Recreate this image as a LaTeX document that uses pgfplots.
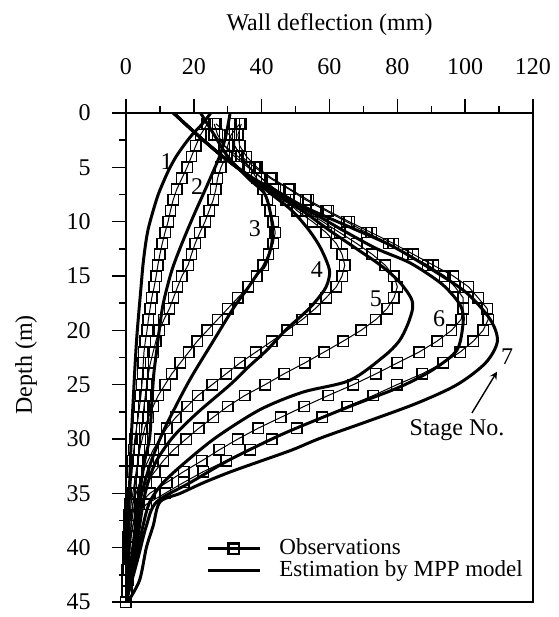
\documentclass[border=0pt]{standalone}
\usepackage{fontspec}
\setmainfont{Liberation Serif}
\usepackage{pgfplots}
\pgfplotsset{compat=1.18}
\usepackage{pgfplotstable}

% Observations (deflection mm, depth m)
\pgfplotstableread{
x y
24 1
22 2
20.6 3
19.3 4
18 5
16.5 6
15 7
13.9 8
13.1 9
12.4 10
11.5 11
10.7 12
10 13
9.4 14
8.9 15
8.3 16
7.6 17
7.1 18
6.6 19
6.2 20
5.7 21
5.3 22
5.1 23
4.9 24
4.7 25
4.4 26
4 27
3.6 28
3.1 29
2.6 30
2.3 31
2 32
1.8 33
1.5 34
1.3 35
1.1 36
1 37
0.9 38
0.7 39
0.6 40
0.5 41
0.4 42
0.3 43
0.2 44
0 45
}\obsA
\pgfplotstableread{
x y
33.5 1
31 2
30 3
29.5 4
28 5
27 6
26.5 7
25.7 8
24.5 9
23.3 10
21.8 11
20.4 12
19.3 13
18.3 14
16.5 15
15.2 16
14 17
12.8 18
11.2 19
9.8 20
8.8 21
8 22
7.2 23
6.6 24
6.1 25
5.7 26
5.3 27
5 28
4.7 29
4.3 30
4 31
3.6 32
3.2 33
2.8 34
2.4 35
2 36
1.7 37
1.5 38
1.2 39
1 40
0.8 41
0.6 42
0.4 43
0.2 44
0 45
}\obsB
\pgfplotstableread{
x y
26.5 1
30.5 2
32 3
34 4
36.5 5
38.5 6
40.5 7
41.6 8
42.5 9
43.4 10
44 11
43.4 12
42 13
40.4 14
38.6 15
36 16
33 17
30 18
27 19
24 20
21 21
18.5 22
16 23
13.5 24
11.5 25
9.5 26
8 27
6.6 28
5.5 29
4.8 30
4 31
3.5 32
3 33
2.5 34
2 35
1.5 36
1.3 37
1.1 38
1 39
0.8 40
0.6 41
0.5 42
0.3 43
0.2 44
0 45
}\obsC
\pgfplotstableread{
x y
24 1
26 2
29 3
32 4
36 5
40 6
43.5 7
47 8
50.5 9
55 10
59 11
62 12
63.7 13
64.5 14
63.7 15
62 16
59 17
55.8 18
52 19
47.5 20
43 21
38.3 22
33.6 23
29.5 24
25.4 25
21.2 26
18 27
14.7 28
12 29
10 30
8 31
6.5 32
5 33
4 34
3 35
2 36
1.7 37
1.5 38
1.2 39
1 40
0.8 41
0.6 42
0.4 43
0.2 44
0 45
}\obsD
\pgfplotstableread{
x y
26 1
27 2
29 3
33 4
36.5 5
40 6
44 7
48 8
53 9
58 10
63 11
68 12
72.6 13
76.4 14
79 15
80 16
79 17
77 18
73.7 19
69.3 20
64 21
58.4 22
52.7 23
46.6 24
41 25
35 26
30 27
25.7 28
21.5 29
17.7 30
14 31
11 32
8.5 33
6 34
4 35
2.5 36
2 37
1.5 38
1.2 39
1 40
0.8 41
0.6 42
0.4 43
0.2 44
0 45
}\obsE
\pgfplotstableread{
x y
32 1
32 2
32 3
34 4
38 5
42.5 6
48 7
53 8
59 9
65 10
71 11
77.5 12
83 13
89 14
94 15
97 16
99.4 17
99.4 18
98.8 19
96 20
91.7 21
86.4 22
80 23
73.7 24
67 25
59.6 26
52.5 27
45.7 28
39 29
33 30
27.5 31
22.4 32
17 33
12 34
7 35
4 36
2.5 37
2 38
1.5 39
1.2 40
1 41
0.8 42
0.5 43
0.3 44
0 45
}\obsF
\pgfplotstableread{
x y
34 1
33 2
33.5 3
35.5 4
38.6 5
43 6
48.4 7
53.7 8
59.6 9
65.8 10
72.3 11
78.8 12
84.7 13
90.6 14
96.5 15
101 16
103.8 17
106.5 18
106.8 19
105.3 20
102.4 21
98.5 22
93.5 23
87.3 24
79.9 25
72.9 26
65.2 27
57.8 28
50.4 29
43 30
36.6 31
29.6 32
22.8 33
17 34
11.5 35
6 36
3 37
2 38
1.5 39
1.2 40
1 41
0.8 42
0.5 43
0.3 44
0 45
}\obsG

% Estimations by MPP model
\pgfplotstableread{
x y
25 0
22.5 1
19.5 2
17 3
14.8 4
13 5
11.5 6
9.5 7.5
8 9
6.6 10.6
5.8 12
5 14
4.3 16.5
3.6 19
3.1 21
2.6 23.6
2.2 26
1.7 29
1.3 32
1 35
0.8 38
0.4 42
0 45
}\estA
\pgfplotstableread{
x y
30.7 0
29.5 2
27.7 3.9
24 6.6
20 9.4
16.5 12
13.5 14.5
11 17.5
9.8 20
9 22
8.2 24
7.6 26.7
7 29.8
5.5 32
4.5 34
3.5 36
2 40
0 45
}\estB
\pgfplotstableread{
x y
22 0
26 2
30 4
36 6
41 7.5
43 10
43 12
41 14
39 14.7
35.5 16.3
32 17.8
25.7 21
18.9 24.5
13 28
10 30
7.5 32
5.5 34
4 36
2.5 40
0 45
}\estC
\pgfplotstableread{
x y
14 0
21 2
28.5 4
37 6
43 7.5
49 9
54 10.8
57.5 12.5
60 14.5
59 16
56 17.3
53 18.3
47 20
41.6 21.8
36 23.4
30.7 25
21 27.6
13.9 29.8
9 32
6.5 34
5 36
3 40
0 45
}\estD
\pgfplotstableread{
x y
14 0
21 2
28.5 4
37 6
44 7.5
52 9
60 10.8
68 12.5
75 14
80.5 15.5
84 17
84.5 18
83 19.5
80.5 21
76 22.4
66 24.6
52 25.7
39.5 27.3
26.8 29.8
18 32
11 34
7 35.8
5 38
3 41
0 45
}\estE
\pgfplotstableread{
x y
14 0
21 2
28.5 4
37 6
45 7.5
54 9
64 10.8
74 12.5
83.8 13.8
92.6 15.6
97 17
99 18
99.4 19.3
97.6 21.8
90.6 23.6
80.8 25.2
66 27
51 28.9
43 30
30 32
19 34
9 35.8
6 38
3.5 41
0 45
}\estF
\pgfplotstableread{
x y
14 0
21 2
28.5 4
37.5 6
44 7.1
53 8.7
66 10.5
78.8 12.3
91.7 14.7
100.6 16.6
107.4 19
109.5 21
106 23
97.6 25
85.8 26.7
71 28.4
57.5 29.9
49 31
40 32
31 33
23 34
16 35
10 35.8
8 38
6 40
4 43
0.5 45
}\estG

\begin{document}
\fontsize{12}{14}\selectfont
\begin{tikzpicture}
\begin{axis}[
  at={(0,0)}, anchor=south west,
  scale only axis, width=203.5pt, height=244.5pt,
  xmin=0, xmax=120, ymin=0, ymax=45, y dir=reverse,
  xtick={0,20,...,120}, minor xtick={10,30,...,110},
  ytick={0,5,...,45}, minor ytick={2.5,7.5,...,42.5},
  xtick pos=right, xticklabel pos=right, ytick pos=left,
  tick align=outside,
  major tick length=7pt, minor tick length=3.5pt,
  tick style={black, line width=0.7pt},
  axis line style={line width=0.8pt},
  /pgf/number format/assume math mode=true,
  ticklabel style={font=\fontsize{12}{14}\selectfont},
  xticklabel style={yshift=8pt},
  yticklabel style={xshift=-6.5pt},
  xlabel={Wall deflection (mm)}, ylabel={Depth (m)},
  label style={font=\fontsize{12}{14}\selectfont},
  xlabel style={at={(axis description cs:0.5,1)}, anchor=center, yshift=44pt},
  ylabel style={at={(axis description cs:-0.2457,0.485)}, anchor=center},
  legend style={at={(axis cs:23,38.6)}, anchor=north west, draw=none, fill=none,
    font=\fontsize{11.5}{12}\selectfont, row sep=-3pt, inner sep=1pt, column sep=7pt},
  legend cell align=left,
  legend image code/.code={\draw[mark repeat=2,mark phase=2,#1] plot coordinates {(0pt,0pt) (13pt,0pt) (26pt,0pt)};},
]
\pgfplotsset{obs/.style={black, line width=0.5pt, mark=square, mark size=2.6pt, mark options={line width=0.7pt, solid}},
  est/.style={black, line width=1.5pt, no marks, smooth, tension=0.5}}
\addlegendimage{black, line width=1.3pt, mark=square, mark size=2.6pt, mark options={line width=1.3pt}}
\addlegendentry{Observations}
\addlegendimage{black, line width=1.5pt}
\addlegendentry{Estimation by MPP model}
\addplot[obs, forget plot] table[x=x,y=y] {\obsA};
\addplot[obs, forget plot] table[x=x,y=y] {\obsB};
\addplot[obs, forget plot] table[x=x,y=y] {\obsC};
\addplot[obs, forget plot] table[x=x,y=y] {\obsD};
\addplot[obs, forget plot] table[x=x,y=y] {\obsE};
\addplot[obs, forget plot] table[x=x,y=y] {\obsF};
\addplot[obs, forget plot] table[x=x,y=y] {\obsG};
\addplot[est, forget plot] table[x=x,y=y] {\estA};
\addplot[est, forget plot] table[x=x,y=y] {\estB};
\addplot[est, forget plot] table[x=x,y=y] {\estC};
\addplot[est, forget plot] table[x=x,y=y] {\estD};
\addplot[est, forget plot] table[x=x,y=y] {\estE};
\addplot[est, forget plot] table[x=x,y=y] {\estF};
\addplot[est, forget plot] table[x=x,y=y] {\estG};
\node[font=\fontsize{12}{14}\selectfont] at (axis cs:12,4.5) {1};
\node[font=\fontsize{12}{14}\selectfont] at (axis cs:21,6.8) {2};
\node[font=\fontsize{12}{14}\selectfont] at (axis cs:38,10.6) {3};
\node[font=\fontsize{12}{14}\selectfont] at (axis cs:56.3,14.4) {4};
\node[font=\fontsize{12}{14}\selectfont] at (axis cs:73.7,17.1) {5};
\node[font=\fontsize{12}{14}\selectfont] at (axis cs:92.3,18.9) {6};
\node[font=\fontsize{12}{14}\selectfont] at (axis cs:112.4,22.4) {7};
\node[font=\fontsize{12}{14}\selectfont] at (axis cs:97.6,29.2) {Stage No.};
\draw[-stealth, line width=0.7pt] (axis cs:102,27.6) -- (axis cs:109.4,23.8);
\end{axis}
\pgfresetboundingbox
\path[use as bounding box] (-63pt,-7.5pt) rectangle (216pt,301pt);
\end{tikzpicture}
\end{document}
